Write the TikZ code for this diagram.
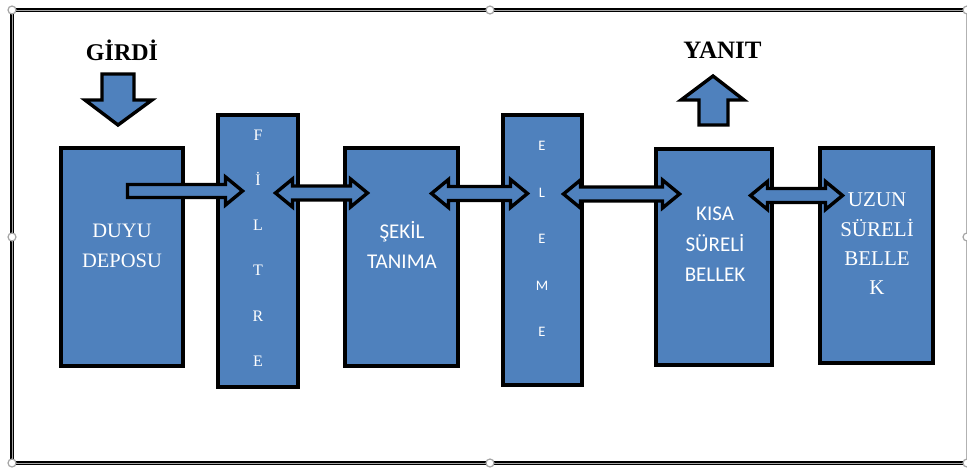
\documentclass[tikz,border=0pt]{standalone}
\usepackage{fontspec}
\setmainfont{Liberation Serif}
\newfontfamily\calibri{Carlito}
\definecolor{boxblue}{RGB}{79,129,189}
\tikzset{
  memory/.style={rectangle, draw=black, line width=4pt, fill=boxblue, inner sep=0pt},
  blockarrow/.style={draw=black, line width=3.4pt, fill=boxblue, line join=miter},
  lbl/.style={text=white, align=center, inner sep=0pt},
  heading/.style={text=black, inner sep=0pt, font=\bfseries\fontsize{24}{28}\selectfont},
  handle/.style={circle, draw=gray!70, fill=white, line width=1.2pt, minimum size=8pt, inner sep=0pt},
  frameline/.style={draw=black, line width=1.2pt, double=gray!70, double distance=1pt}
}
% horizontal two-headed block arrow: left tip x, right tip x, axis y
\newcommand{\twowayarrow}[3]{%
  \draw[blockarrow] (#1,#3) -- ({#1+17},{#3-14}) -- ({#1+17},{#3-7}) -- ({#2-17},{#3-7})
    -- ({#2-17},{#3-14}) -- (#2,#3) -- ({#2-17},{#3+14}) -- ({#2-17},{#3+7})
    -- ({#1+17},{#3+7}) -- ({#1+17},{#3+14}) -- cycle;}
\begin{document}
\begin{tikzpicture}[x=1pt,y=-1pt]
\useasboundingbox (0,0) rectangle (967,471);
\fill[white] (0,0) rectangle (967,471);

% frame of the drawing area
\draw[frameline] (965,10) -- (12,10) -- (12,463) -- (965,463);
\draw[gray!60, line width=1pt] (966,10) -- (966,463);

% headings
\node[heading] (girdi) at (122,50) {GİRDİ};
\node[heading, font=\bfseries\fontsize{25}{28}\selectfont] (yanit) at (722.5,50) {YANIT};

% memory stages
\node[memory, minimum width=122pt, minimum height=218pt] (duyu)  at (122,257) {};
\node[memory, minimum width=80pt,  minimum height=272pt] (filtre) at (258,251) {};
\node[memory, minimum width=113pt, minimum height=218pt] (sekil) at (401.5,257) {};
\node[memory, minimum width=79pt,  minimum height=270pt] (eleme) at (542.5,250) {};
\node[memory, minimum width=116pt, minimum height=216pt] (kisa)  at (714,257) {};
\node[memory, minimum width=113pt, minimum height=215pt] (uzun)  at (876.5,255.5) {};

% stage labels
\node[lbl, font=\fontsize{20.5}{30}\selectfont] (tduyu) at (122,246) {DUYU\\DEPOSU};
\node[lbl, font=\fontsize{16}{45.2}\selectfont] (tfiltre) at (258,248) {F\\İ\\L\\T\\R\\E};
\node[lbl, font=\calibri\fontsize{21}{30}\selectfont] (tsekil) at (402,245) {ŞEKİL\\TANIMA};
\node[lbl, font=\calibri\fontsize{14.5}{46.5}\selectfont] (teleme) at (542,239) {E\\L\\E\\M\\E};
\node[lbl, font=\calibri\fontsize{21}{30.5}\selectfont] (tkisa) at (715,244.5) {KISA\\SÜRELİ\\BELLEK};
\node[lbl, font=\fontsize{21}{29.3}\selectfont] (tuzun) at (877,244) {UZUN\\SÜRELİ\\BELLE\\K};

% input and response arrows
\draw[blockarrow] (102,74) -- (134,74) -- (134,100) -- (152,100) -- (118,125)
  -- (85,100) -- (102,100) -- cycle;
\draw[blockarrow] (713,76) -- (744,100) -- (728,100) -- (728,125) -- (699,125)
  -- (699,100) -- (681,100) -- cycle;

% flow from the sensory store into the filter
\draw[blockarrow] (127.5,184.5) -- (225.5,184.5) -- (225.5,177) -- (242.5,191)
  -- (225.5,205) -- (225.5,197.5) -- (127.5,197.5) -- cycle;

% two-way links between stages
\twowayarrow{275.5}{367.5}{193}
\twowayarrow{431.5}{527.5}{193.5}
\twowayarrow{563.5}{679.5}{194}
\twowayarrow{750.5}{842.5}{195.5}

% selection handles
\foreach \p/\n in {{(12,10)}/h1,{(490,10)}/h2,{(967,10)}/h3,{(12,237)}/h4,{(967,237)}/h5,{(12,463)}/h6,{(490,463)}/h7,{(967,463)}/h8}
  \node[handle] (\n) at \p {};
\end{tikzpicture}
\end{document}
